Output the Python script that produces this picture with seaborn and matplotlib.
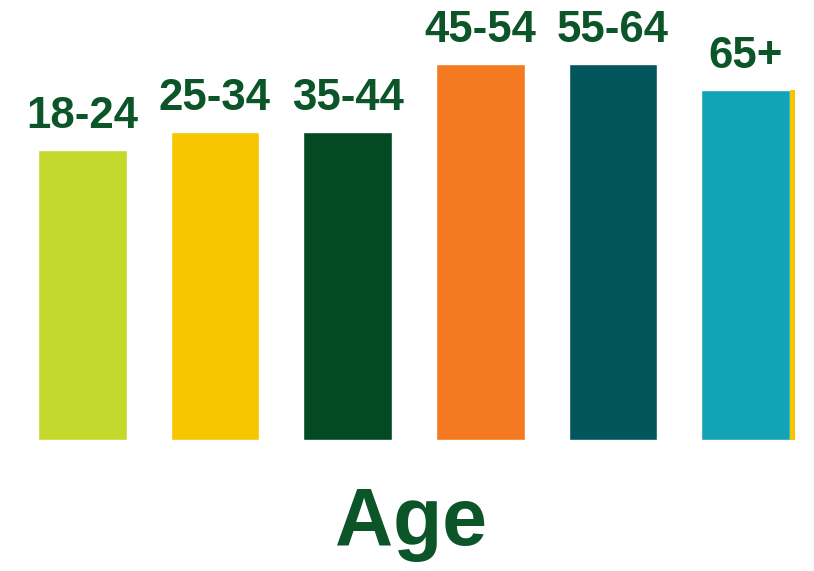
import matplotlib
matplotlib.use("Agg")
import matplotlib.pyplot as plt
import seaborn as sns
import pandas as pd

categories = ["18-24", "25-34", "35-44", "45-54", "55-64", "65+"]
values = [77, 82, 82, 100, 100, 93]
colors = ["#c5d82e", "#f7c600", "#034a22", "#f47920", "#02555b", "#13a3b7"]
accent = "#f7c600"
label_color = "#0b5529"
axis_title = "Age"

sns.set_style("white")
plt.rcParams['font.family'] = ['Liberation Sans', 'DejaVu Sans']

df = pd.DataFrame({"age": categories, "value": values})

fig = plt.figure(figsize=(8.14, 5.71), dpi=100)
ax = fig.add_axes([16/814, (571-440)/571, 796/814, (440-64)/571])
bw = 0.67
sns.barplot(data=df, x="age", y="value", hue="age", palette=colors,
            legend=False, width=bw, saturation=1, ax=ax)
# thin accent strip at the right edge of the last bar
ax.bar(len(categories) - 1 + bw/2, values[-1], width=0.04, align='edge',
       color=accent, linewidth=0)

for i, (c, v) in enumerate(zip(categories, values)):
    ax.text(i, v, c, ha='center', va='bottom', fontsize=31.5, fontweight='bold',
            color=label_color, clip_on=False)
    # adjust gap above bar
for t in ax.texts:
    t.set_position((t.get_position()[0], t.get_position()[1] + 3.5))

ax.set_xlim(-0.5, len(categories) - 0.5)
ax.set_ylim(0, 100)
ax.axis('off')
fig.text(411/814, 1 - 545/571, axis_title, ha='center', va='baseline',
         fontsize=58, fontweight='bold', color=label_color)

fig.savefig("out.png", dpi=100, facecolor="white")
